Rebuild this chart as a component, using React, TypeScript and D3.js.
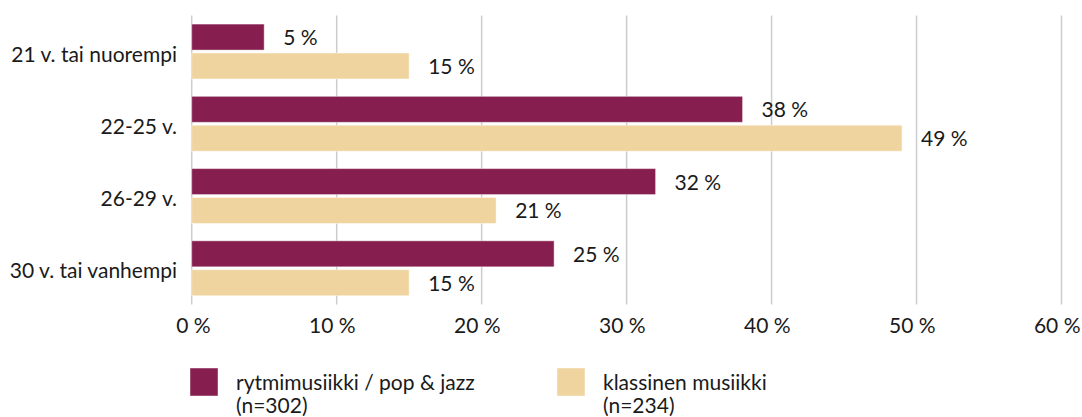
import React from "react";
import * as d3 from "d3";

const categories = ["21 v. tai nuorempi", "22-25 v.", "26-29 v.", "30 v. tai vanhempi"];
const seriesNames = ["rytmimusiikki / pop & jazz", "klassinen musiikki"];
const seriesN = ["(n=302)", "(n=234)"];
const rytmi = [5, 38, 32, 25];
const klassinen = [15, 49, 21, 15];
const xTicks = [0, 10, 20, 30, 40, 50, 60];
const colors = ["#861F4F", "#F0D49F"];

const W = 1082;
const H = 417;
const FONT = "Lato, 'Open Sans', sans-serif";

export default function App() {
  const x = d3.scaleLinear().domain([0, 60]).range([191.7, 1061.5]);
  const y = d3
    .scaleBand<string>()
    .domain(categories)
    .range([15.4, 304.4])
    .paddingInner(0.24)
    .paddingOuter(0.12);
  const ySub = d3
    .scaleBand<number>()
    .domain([0, 1])
    .range([0, y.bandwidth()])
    .paddingInner(0.1);
  const series = [rytmi, klassinen];
  const [y0, y1] = y.range();

  return (
    <svg
      width={W}
      height={H}
      style={{ position: "absolute", left: 0, top: 0, fontFamily: FONT }}
    >
      <rect width={W} height={H} fill="#fff" />
      {xTicks.map((t) => (
        <g key={t}>
          <line x1={x(t)} x2={x(t)} y1={y0} y2={y1} stroke="#cccccc" strokeWidth={1.5} />
          <text x={x(t) + 19} y={333} textAnchor="end" fontSize={21} fill="#1a1a1a">
            {`${t} %`}
          </text>
        </g>
      ))}
      {categories.map((c, i) => {
        const by = y(c)!;
        return (
          <g key={c}>
            <text
              x={177}
              y={by + y.bandwidth() / 2 + 10}
              textAnchor="end"
              fontSize={21}
              fill="#1a1a1a"
            >
              {c}
            </text>
            {series.map((s, j) => {
              const top = by + ySub(j)!;
              const h = ySub.bandwidth();
              return (
                <g key={j}>
                  <rect
                    x={x(0)}
                    y={top}
                    width={x(s[i]) - x(0)}
                    height={h}
                    fill={colors[j]}
                    stroke="#ffffff"
                    strokeOpacity={0.45}
                    strokeWidth={1}
                  />
                  <text
                    x={x(s[i]) + 19}
                    y={top + h / 2 + 8}
                    fontSize={21}
                    fill="#1a1a1a"
                  >
                    {`${s[i]} %`}
                  </text>
                </g>
              );
            })}
          </g>
        );
      })}
      {seriesNames.map((n, j) => {
        const lx = j === 0 ? 190 : 557;
        return (
          <g key={n}>
            <rect
              x={lx}
              y={368}
              width={28}
              height={28}
              fill={colors[j]}
              stroke="#ffffff"
              strokeOpacity={0.45}
              strokeWidth={1}
            />
            <text x={lx + 46} y={390} fontSize={21} fill="#1a1a1a">
              {n}
            </text>
            <text x={lx + 46} y={413} fontSize={21} fill="#1a1a1a">
              {seriesN[j]}
            </text>
          </g>
        );
      })}
    </svg>
  );
}
